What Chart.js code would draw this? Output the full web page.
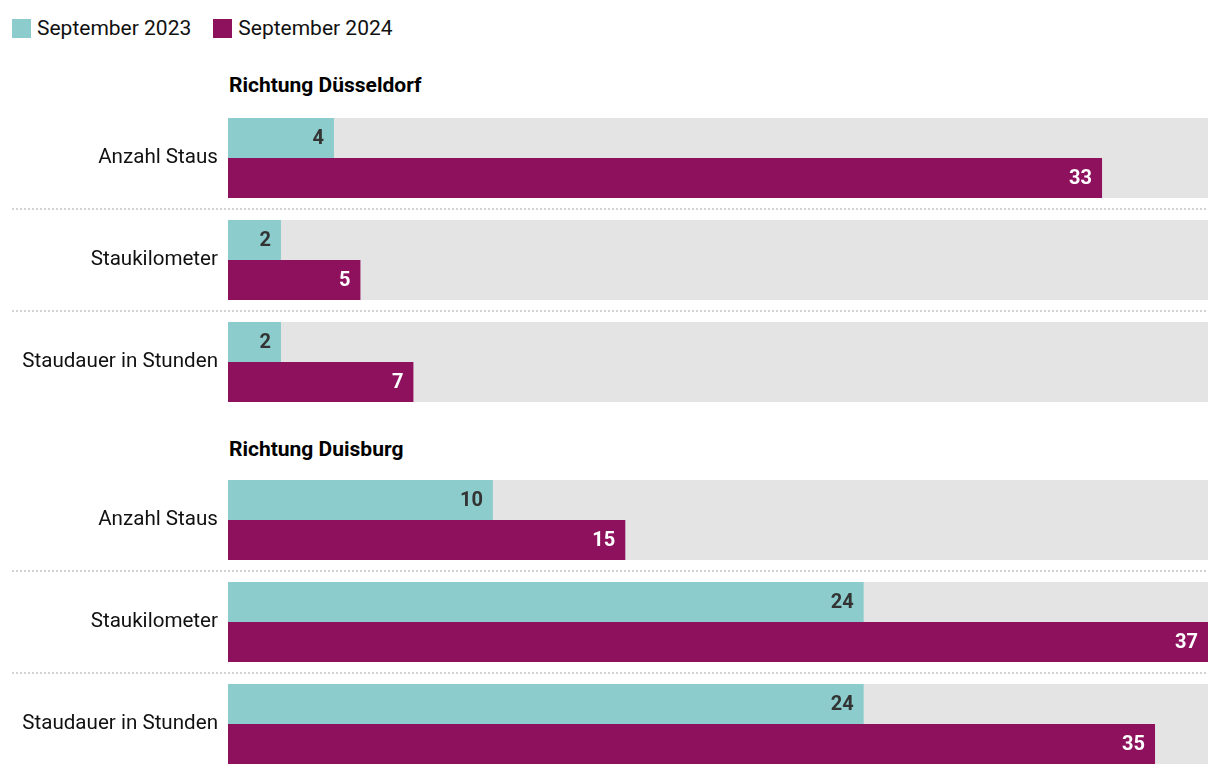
<!DOCTYPE html>
<html>
<head>
<meta charset="utf-8">
<script src="https://cdn.jsdelivr.net/npm/chart.js@4.4.1/dist/chart.umd.min.js"></script>
<style>
  html, body { margin: 0; padding: 0; background: #fff; }
  body { width: 1220px; height: 774px; position: relative; overflow: hidden; font-family: Roboto, "Noto Sans", sans-serif; }
  #legend { position: absolute; left: 12px; top: 16px; display: flex; font-size: 21px; color: #111; }
  #legend .item { display: flex; align-items: center; margin-right: 22px; }
  #legend .box { width: 19px; height: 19px; margin-right: 6px; }
  .heading { position: absolute; left: 229px; font-weight: bold; font-size: 21px; color: #000; }
  canvas { position: absolute; left: 0; }
</style>
</head>
<body>
<div id="legend"></div>
<div class="heading" id="h1" style="top:73px"></div>
<div class="heading" id="h2" style="top:437px"></div>
<canvas id="c1" style="top:107px"></canvas>
<canvas id="c2" style="top:469px"></canvas>
<script>
// Daten
var categories = ['Anzahl Staus', 'Staukilometer', 'Staudauer in Stunden'];
var seriesNames = ['September 2023', 'September 2024'];
var groupTitles = ['Richtung Düsseldorf', 'Richtung Duisburg'];
var duesseldorf2023 = [4, 2, 2];
var duesseldorf2024 = [33, 5, 7];
var duisburg2023 = [10, 24, 24];
var duisburg2024 = [15, 37, 35];
var axisMax = 37;

var colors = ['#8ccccc', '#8e115e'];
var labelColors = ['#333333', '#ffffff'];
var fontFamily = 'Roboto, "Noto Sans", sans-serif';
var catPct = 80 / 102;

// Legende + Überschriften
var legend = document.getElementById('legend');
seriesNames.forEach(function (name, i) {
  var item = document.createElement('div');
  item.className = 'item';
  item.innerHTML = '<div class="box" style="background:' + colors[i] + '"></div><span>' + name + '</span>';
  legend.appendChild(item);
});
document.getElementById('h1').textContent = groupTitles[0];
document.getElementById('h2').textContent = groupTitles[1];

// grauer Hintergrund, gepunktete Trennlinien, Werte in den Balken
var decoPlugin = {
  id: 'deco',
  beforeDatasetsDraw: function (chart) {
    var ctx = chart.ctx, y = chart.scales.y, area = chart.chartArea;
    var step = y.getPixelForValue(1) - y.getPixelForValue(0);
    var h = step * catPct;
    ctx.save();
    ctx.fillStyle = '#e4e4e4';
    for (var i = 0; i < categories.length; i++) {
      var cy = y.getPixelForValue(i);
      ctx.fillRect(area.left, cy - h / 2, area.right - area.left, h);
    }
    ctx.strokeStyle = '#d2d2d2';
    ctx.lineWidth = 2;
    ctx.setLineDash([2, 2]);
    for (var j = 0; j < categories.length - 1; j++) {
      var ly = Math.round((y.getPixelForValue(j) + y.getPixelForValue(j + 1)) / 2);
      ctx.beginPath();
      ctx.moveTo(12, ly);
      ctx.lineTo(area.right, ly);
      ctx.stroke();
    }
    ctx.restore();
  },
  afterDatasetsDraw: function (chart) {
    var ctx = chart.ctx;
    ctx.save();
    ctx.font = 'bold 20px ' + fontFamily;
    ctx.textAlign = 'right';
    ctx.textBaseline = 'middle';
    chart.data.datasets.forEach(function (ds, di) {
      chart.getDatasetMeta(di).data.forEach(function (bar, i) {
        ctx.fillStyle = labelColors[di];
        ctx.fillText(ds.data[i], bar.x - 10, bar.y + 1);
      });
    });
    ctx.restore();
  }
};

function makeChart(id, a, b) {
  var canvas = document.getElementById(id);
  return new Chart(canvas, {
    type: 'bar',
    data: {
      labels: categories,
      datasets: [
        { label: seriesNames[0], data: a, backgroundColor: colors[0] },
        { label: seriesNames[1], data: b, backgroundColor: colors[1] }
      ]
    },
    options: {
      indexAxis: 'y',
      responsive: false,
      animation: false,
      devicePixelRatio: 1,
      categoryPercentage: catPct,
      barPercentage: 1,
      layout: { padding: { left: 0, right: 12, top: 0, bottom: 0 } },
      plugins: { legend: { display: false }, tooltip: { enabled: false } },
      scales: {
        x: { display: false, min: 0, max: axisMax },
        y: {
          grid: { display: false, drawTicks: false },
          border: { display: false },
          ticks: { color: '#111', font: { family: fontFamily, size: 20.6 }, padding: 10 },
          afterFit: function (scale) {
            scale.width = 228;
            scale.paddingTop = 0;
            scale.paddingBottom = 0;
            if (scale._margins) { scale._margins.top = 0; scale._margins.bottom = 0; }
          }
        }
      }
    },
    plugins: [decoPlugin]
  });
}

document.getElementById('c1').width = 1220;
document.getElementById('c1').height = 306;
document.getElementById('c2').width = 1220;
document.getElementById('c2').height = 306;
makeChart('c1', duesseldorf2023, duesseldorf2024);
makeChart('c2', duisburg2023, duisburg2024);
</script>
</body>
</html>
